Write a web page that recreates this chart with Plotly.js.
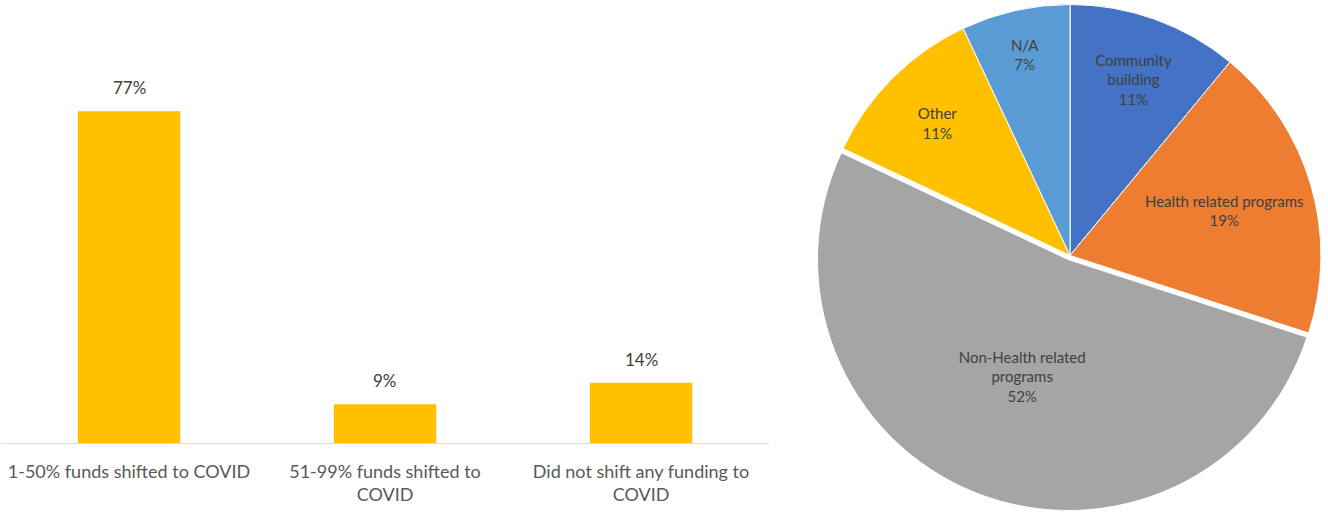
<!DOCTYPE html>
<html>
<head>
<meta charset="utf-8">
<script src="https://cdn.plot.ly/plotly-3.0.1.min.js"></script>
<style>
html,body{margin:0;padding:0;background:#fff;}
#chart{width:1328px;height:516px;}
</style>
</head>
<body>
<div id="chart"></div>
<script>
const barCategories = ["1-50% funds shifted to COVID", "51-99% funds shifted to<br>COVID", "Did not shift any funding to<br>COVID"];
const barValues = [77, 9, 14];
const pieLabels = ["Community building", "Health related programs", "Non-Health related programs", "Other", "N/A"];
const pieDisplay = ["Community<br>building", "Health related programs", "Non-Health related<br>programs", "Other", "N/A"];
const pieValues = [11, 19, 52, 11, 7];
const pieColors = ["#4472C4", "#ED7D31", "#A5A5A5", "#FFC000", "#5B9BD5"];
const piePull = [0, 0, 0.018, 0, 0];

const FONT = "Lato, 'Open Sans', sans-serif";

const traces = [
  {
    type: "bar",
    x: barCategories,
    y: barValues,
    marker: {color: "#FFC000"},
    width: 0.4,
    hoverinfo: "none",
    xaxis: "x", yaxis: "y"
  },
  {
    type: "pie",
    labels: pieLabels,
    values: pieValues,
    text: pieDisplay,
    texttemplate: "%{text}<br>%{percent}",
    textposition: "inside",
    insidetextorientation: "horizontal",
    sort: false,
    direction: "clockwise",
    rotation: 0,
    pull: piePull,
    marker: {colors: pieColors, line: {color: "#ffffff", width: 1}},
    textfont: {family: FONT, size: 15, color: "#404040"},
    showlegend: false,
    domain: {x: [0.6130, 0.9985], y: [0.01, 1]},
    hoverinfo: "none"
  }
];

const barAnnotations = barCategories.map((c, i) => ({
  x: c, y: barValues[i], xref: "x", yref: "y",
  text: barValues[i] + "%",
  showarrow: false, yanchor: "bottom", yshift: 11,
  font: {family: FONT, size: 17, color: "#404040"}
}));

const layout = {
  width: 1328, height: 516,
  margin: {l: 0, r: 0, t: 0, b: 0},
  paper_bgcolor: "#ffffff",
  plot_bgcolor: "#ffffff",
  showlegend: false,
  font: {family: FONT, color: "#595959"},
  xaxis: {
    domain: [1/1328, 769/1328],
    showgrid: false, zeroline: false,
    showline: true, linecolor: "#D9D9D9", linewidth: 1,
    ticks: "", ticklabelstandoff: 12,
    tickfont: {family: FONT, size: 18, color: "#595959"},
    fixedrange: true
  },
  yaxis: {
    domain: [73/516, 504/516],
    range: [0, 100],
    visible: false, showgrid: false, zeroline: false,
    fixedrange: true
  },
  annotations: barAnnotations
};

Plotly.newPlot("chart", traces, layout, {staticPlot: true, displayModeBar: false});
</script>
</body>
</html>
